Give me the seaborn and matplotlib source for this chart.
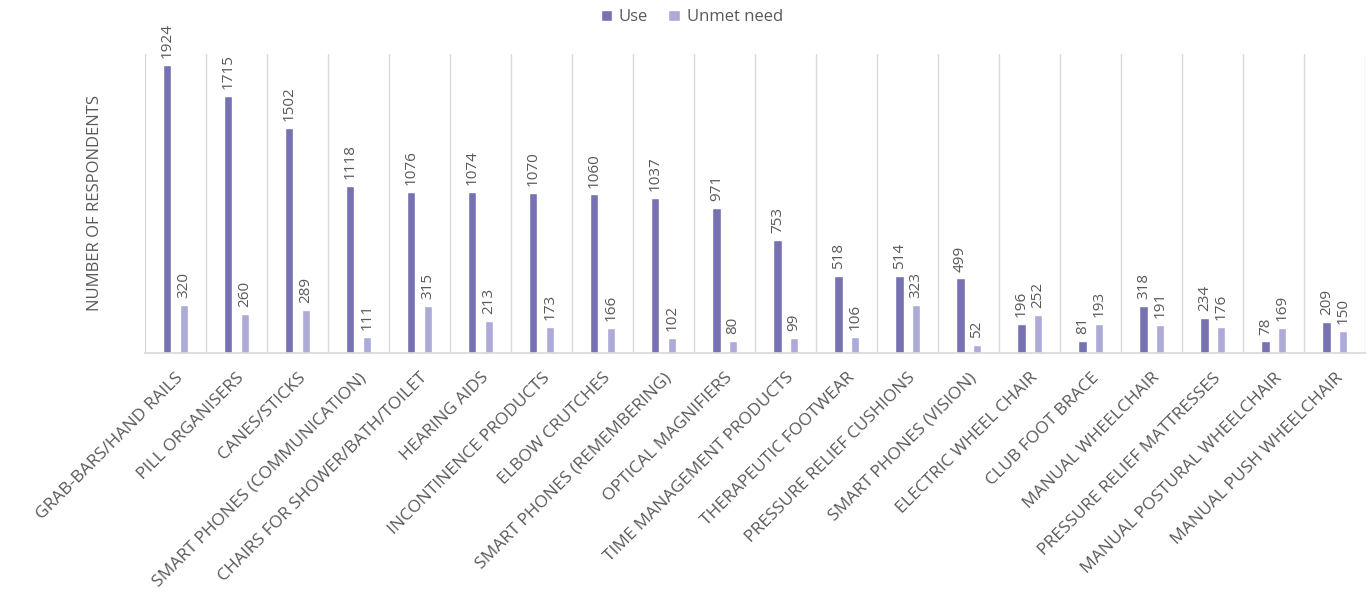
import matplotlib
matplotlib.use("Agg")
import matplotlib.pyplot as plt
import seaborn as sns
import pandas as pd
import numpy as np

categories = ["GRAB-BARS/HAND RAILS", "PILL ORGANISERS", "CANES/STICKS",
              "SMART PHONES (COMMUNICATION)", "CHAIRS FOR SHOWER/BATH/TOILET",
              "HEARING AIDS", "INCONTINENCE PRODUCTS", "ELBOW CRUTCHES",
              "SMART PHONES (REMEMBERING)", "OPTICAL MAGNIFIERS",
              "TIME MANAGEMENT PRODUCTS", "THERAPEUTIC FOOTWEAR",
              "PRESSURE RELIEF CUSHIONS", "SMART PHONES (VISION)",
              "ELECTRIC WHEEL CHAIR", "CLUB FOOT BRACE", "MANUAL WHEELCHAIR",
              "PRESSURE RELIEF MATTRESSES", "MANUAL POSTURAL WHEELCHAIR",
              "MANUAL PUSH WHEELCHAIR"]
use = [1924, 1715, 1502, 1118, 1076, 1074, 1070, 1060, 1037, 971, 753, 518, 514, 499, 196, 81, 318, 234, 78, 209]
unmet = [320, 260, 289, 111, 315, 213, 173, 166, 102, 80, 99, 106, 323, 52, 252, 193, 191, 176, 169, 150]
series = ["Use", "Unmet need"]

df = pd.DataFrame({
    "cat": categories * 2,
    "val": use + unmet,
    "series": [series[0]] * len(categories) + [series[1]] * len(categories),
})

sns.set_theme(style="white")
plt.rcParams['font.family'] = ['Open Sans', 'DejaVu Sans']
gray = "#595959"

fig = plt.figure(figsize=(13.68, 6.11), dpi=100)
ax = fig.add_axes([0.106, 0.422, 0.892, 0.49])
sns.barplot(data=df, x="cat", y="val", hue="series", order=categories,
            hue_order=series, palette=["#7671b0", "#aeaad8"], width=0.54,
            gap=0.5, ax=ax, saturation=1, legend=True)

ax.set_ylim(0, 2000)
ax.set_xlim(-0.5, len(categories) - 0.5)
ax.set_yticks([])
ax.set_xlabel("")
ax.set_ylabel("NUMBER OF RESPONDENTS", color=gray, fontsize=12, labelpad=30)

for c in ax.containers:
    ax.bar_label(c, rotation=90, padding=5, color=gray, fontsize=11)

ax.set_xticks(range(len(categories)))
ax.set_xticklabels(categories, rotation=45, ha="right", rotation_mode="anchor",
                   color=gray, fontsize=12.5)
ax.tick_params(axis="x", length=0, pad=12)

ax.set_xticks(np.arange(-0.5, len(categories), 1), minor=True)
ax.grid(False)
ax.grid(axis="x", which="minor", color="#d9d9d9", linewidth=1)
ax.tick_params(axis="x", which="minor", length=0)
for s in ["top", "right", "left"]:
    ax.spines[s].set_visible(False)
ax.spines["bottom"].set_color("#d9d9d9")

leg = ax.legend(loc="center", bbox_to_anchor=(0.448, 1.122), ncol=2,
                frameon=False, handlelength=0.7, handleheight=0.7,
                columnspacing=1.2, handletextpad=0.4, fontsize=12)
for t in leg.get_texts():
    t.set_color(gray)

fig.savefig("out.png", dpi=100)
